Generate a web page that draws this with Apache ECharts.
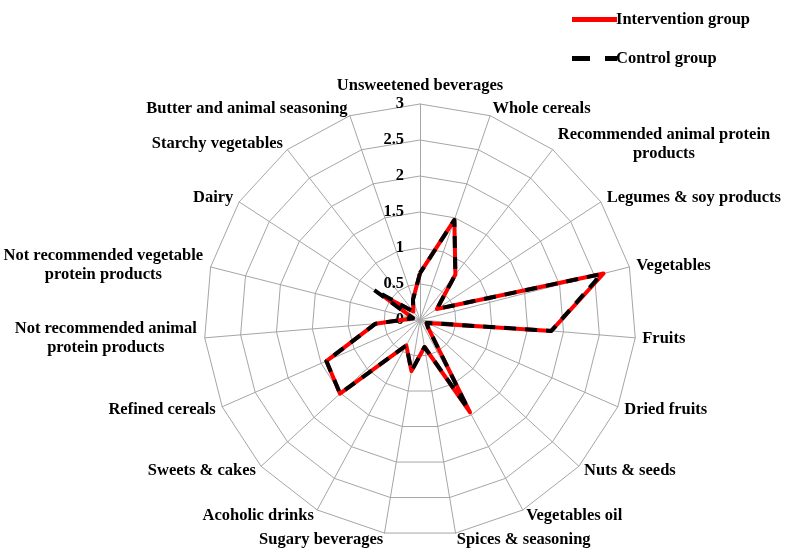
<!DOCTYPE html>
<html>
<head>
<meta charset="utf-8">
<script src="https://cdn.jsdelivr.net/npm/echarts@6/dist/echarts.min.js"></script>
<style>
html,body{margin:0;padding:0;background:#fff;}
#chart{width:785px;height:558px;}
</style>
</head>
<body>
<div id="chart"></div>
<script>
// Categories in clockwise order starting from the top
var categories = [
  "Unsweetened beverages",
  "Whole cereals",
  "Recommended animal protein\nproducts",
  "Legumes & soy products",
  "Vegetables",
  "Fruits",
  "Dried fruits",
  "Nuts & seeds",
  "Vegetables oil",
  "Spices & seasoning",
  "Sugary beverages",
  "Acoholic drinks",
  "Sweets & cakes",
  "Refined cereals",
  "Not recommended animal\nprotein products",
  "Not recommended vegetable\nprotein products",
  "Dairy",
  "Starchy vegetables",
  "Butter and animal seasoning"
];
var intervention = [0.65, 1.47, 0.80, 0.28, 2.63, 1.83, 0.10, 0.15, 1.46, 0.38, 0.72, 0.40, 1.51, 1.42, 0.62, 0.10, 0.63, 0.15, 0.30];
var control      = [0.65, 1.47, 0.80, 0.28, 2.60, 1.83, 0.10, 0.15, 1.40, 0.38, 0.72, 0.40, 1.51, 1.42, 0.62, 0.10, 0.76, 0.15, 0.30];
var seriesNames = ["Intervention group", "Control group"];
var axisMax = 3;

// ECharts radar places indicators counter-clockwise; reorder to get clockwise
var order = [0];
for (var i = categories.length - 1; i >= 1; i--) order.push(i);
function reorder(arr) { return order.map(function (k) { return arr[k]; }); }

var font = "'Liberation Serif', 'Times New Roman', serif";
var fSize = 16.5;

// rich styles so that two-line names are centred line-by-line
var ctx = document.createElement('canvas').getContext('2d');
ctx.font = 'bold ' + fSize + 'px ' + font;
var rich = {};
var richKey = {};
categories.forEach(function (name, idx) {
  if (name.indexOf('\n') >= 0) {
    var w = Math.max.apply(null, name.split('\n').map(function (l) { return ctx.measureText(l).width; }));
    var key = 'm' + idx;
    richKey[name] = key;
    rich[key] = { width: Math.ceil(w) + 1, align: 'center', color: '#000', fontFamily: font,
                  fontWeight: 'bold', fontSize: fSize, lineHeight: 19 };
  }
});

var indicator = reorder(categories).map(function (name, idx) {
  var o = { name: name, max: axisMax, min: 0 };
  if (idx === 0) o.axisLabel = { show: true };
  return o;
});

var chart = echarts.init(document.getElementById('chart'));
chart.setOption({
  animation: false,
  backgroundColor: '#fff',
  legend: {
    orient: 'vertical',
    left: 567,
    top: 6,
    itemWidth: 45,
    itemHeight: 5,
    itemGap: 22,
    textStyle: { fontFamily: font, fontWeight: 'bold', fontSize: fSize, color: '#000', padding: [0, 0, 0, -6] },
    data: [
      { name: seriesNames[0], icon: 'path://M0,0H45V5H0Z' },
      { name: seriesNames[1], icon: 'path://M0,0H18V5H0Z M33,0H45V5H33Z' }
    ]
  },
  radar: {
    center: [420, 320],
    radius: 216,
    shape: 'polygon',
    splitNumber: 6,
    startAngle: 90,
    nameGap: 7,
    axisName: {
      color: '#000', fontFamily: font, fontWeight: 'bold', fontSize: fSize, lineHeight: 19,
      rich: rich,
      formatter: function (name) {
        var key = richKey[name];
        if (!key) return name;
        return name.split('\n').map(function (l) { return '{' + key + '|' + l + '}'; }).join('\n');
      }
    },
    axisLine: { lineStyle: { color: '#a6a6a6', width: 1 } },
    splitLine: { lineStyle: { color: '#a6a6a6', width: 1 } },
    splitArea: { show: false },
    axisTick: { show: false },
    axisLabel: { show: false, color: '#000', fontFamily: font, fontWeight: 'bold', fontSize: fSize, margin: 16,
      formatter: function (v) { return String(v); } },
    indicator: indicator
  },
  series: [{
    type: 'radar',
    symbol: 'none',
    data: [
      { name: seriesNames[0], value: reorder(intervention),
        lineStyle: { color: '#ff0000', width: 4, type: 'solid' }, itemStyle: { color: '#ff0000' } },
      { name: seriesNames[1], value: reorder(control),
        lineStyle: { color: '#000000', width: 4, type: [12, 9] }, itemStyle: { color: '#000000' } }
    ]
  }]
});
</script>
</body>
</html>
